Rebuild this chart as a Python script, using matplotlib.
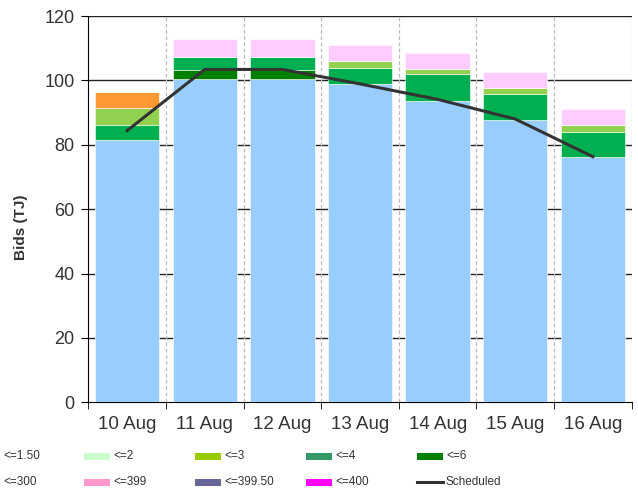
import matplotlib
matplotlib.use("Agg")
import matplotlib.pyplot as plt
from matplotlib.patches import Rectangle
from matplotlib.lines import Line2D
import numpy as np

plt.rcParams['font.family'] = ['Liberation Sans', 'DejaVu Sans']

categories = ["10 Aug", "11 Aug", "12 Aug", "13 Aug", "14 Aug", "15 Aug", "16 Aug"]
seg_blue = [81.4, 100.4, 100.4, 99.0, 93.7, 87.8, 76.3]
seg_darkgreen = [0, 2.9, 2.9, 0, 0, 0, 0]
seg_green = [4.7, 4.0, 4.0, 4.7, 8.2, 8.0, 7.7]
seg_lightgreen = [5.4, 0, 0, 2.3, 1.7, 1.9, 2.2]
seg_orange = [4.9, 0, 0, 0, 0, 0, 0]
seg_pink = [0, 5.4, 5.4, 4.9, 5.0, 4.9, 4.9]
scheduled = [84.4, 103.4, 103.4, 98.9, 94.1, 88.0, 76.3]

segments = [seg_blue, seg_darkgreen, seg_green, seg_lightgreen, seg_orange, seg_pink]
seg_colors = ["#99CCFF", "#008000", "#00B050", "#92D050", "#FF9933", "#FFCCFF"]

legend_labels = ["<=1.50", "<=2", "<=3", "<=4", "<=6",
                 "<=300", "<=399", "<=399.50", "<=400", "Scheduled"]
legend_colors = ["#99CCFF", "#CCFFCC", "#99CC00", "#339966", "#008000",
                 "#FF9933", "#FF99CC", "#666699", "#FF00FF", "#333333"]

fig = plt.figure(figsize=(6.38, 4.92), dpi=100)
ax = fig.add_axes([88.3/638, 1 - 402.3/492, (631.7-88.3)/638, (402.3-16)/492])

x = np.arange(len(categories))
bottom = np.zeros(len(categories))
for vals, col in zip(segments, seg_colors):
    v = np.array(vals)
    ax.bar(x, v, width=0.83, bottom=bottom, color=col, edgecolor='white',
           linewidth=0.4, zorder=3)
    bottom += v

ax.plot(x, scheduled, color="#333333", linewidth=2.2, zorder=4)

ax.set_xlim(-0.5, len(categories) - 0.5)
ax.set_ylim(0, 120)
ax.set_yticks(np.arange(0, 121, 20))
ax.set_xticks(x)
ax.set_xticklabels(categories)
ax.set_xticks(np.arange(-0.5, len(categories), 1.0), minor=True)
ax.tick_params(axis='x', which='major', length=0, pad=10, labelsize=13.5, labelcolor='#333333')
ax.tick_params(axis='x', which='minor', length=5, direction='out', color='black')
ax.tick_params(axis='y', length=5, direction='out', labelsize=13, labelcolor='#333333', pad=5)

for yv in np.arange(20, 121, 20):
    ax.axhline(yv, color='#222222', linewidth=1.0, zorder=1)
for xv in np.arange(0.5, len(categories), 1.0):
    ax.axvline(xv, color='#BBBBBB', linewidth=0.9, linestyle=(0, (3, 2)), zorder=1)

for s in ['top', 'right']:
    ax.spines[s].set_visible(False)
ax.spines['left'].set_color('black')
ax.spines['bottom'].set_color('black')

ax.set_ylabel("Bids (TJ)", fontsize=11, fontweight='bold', color='#333333')
inv = ax.transAxes.inverted()
lx, ly = inv.transform(fig.transFigure.transform((21/638, 1 - 227/492)))
ax.yaxis.set_label_coords(lx, ly)
ax.yaxis.label.set_va('center')

W, H = 638.0, 492.0
col_text_x = [3, 113, 224, 335, 446]
row_y = [456, 482]
for i, (lab, col) in enumerate(zip(legend_labels, legend_colors)):
    r, c = divmod(i, 5)
    tx = col_text_x[c]
    yc = row_y[r]
    sx0 = tx - 29
    sx1 = tx - 3
    if lab == "Scheduled":
        fig.add_artist(Line2D([sx0/W, sx1/W], [1 - yc/H, 1 - yc/H], color=col, linewidth=2.2))
    else:
        fig.add_artist(Rectangle((sx0/W, 1 - (yc+3.5)/H), (sx1-sx0)/W, 7/H,
                                 facecolor=col, edgecolor='none', transform=fig.transFigure))
    fig.text(tx/W, 1 - yc/H, lab, fontsize=8.5, color='#333333', va='center', ha='left')

fig.savefig("out.png", dpi=100)
